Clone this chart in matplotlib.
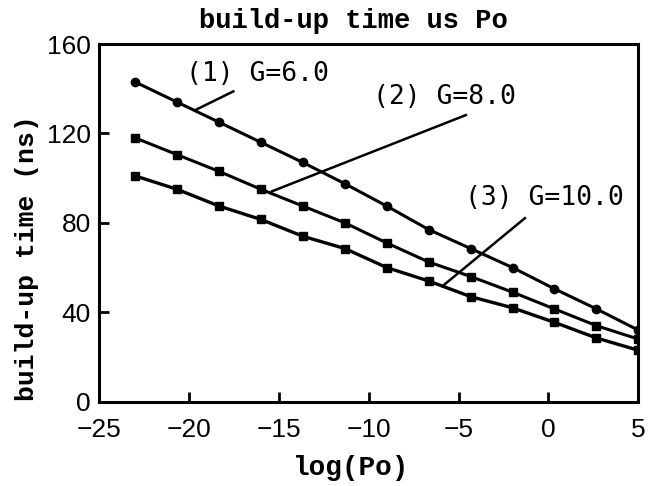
import matplotlib
matplotlib.use("Agg")
import matplotlib.pyplot as plt

# log(Po) values of the measured points
log_po = [-23, -20.67, -18.33, -16, -13.67, -11.33, -9, -6.67, -4.33, -2, 0.33, 2.67, 5]

# build-up time (ns) for each gain
g6 = [143, 134, 125, 116, 107, 97.5, 87.5, 77, 68.5, 60, 50.5, 41.5, 32]
g8 = [118, 110.5, 103, 95, 87.5, 80, 71, 62.5, 56, 49, 41.5, 34, 28]
g10 = [101, 95, 87.5, 81.5, 74, 68.5, 60, 54, 47, 42, 35.5, 28.5, 23]

labels = ["(1) G=6.0", "(2) G=8.0", "(3) G=10.0"]
xticks = [-25, -20, -15, -10, -5, 0, 5]
yticks = [0, 40, 80, 120, 160]

plt.rcParams['font.family'] = ['Liberation Sans', 'DejaVu Sans']
mono = 'Liberation Mono'

fig = plt.figure(figsize=(6.58, 4.86), dpi=100)
ax = fig.add_axes([99.3/658, 1-401.7/486, (638.3-99.3)/658, (401.7-44)/486])

ax.plot(log_po, g6, color='black', lw=2.2, marker='o', ms=6)
ax.plot(log_po, g8, color='black', lw=2.2, marker='s', ms=6)
ax.plot(log_po, g10, color='black', lw=2.4, marker='s', ms=6)

ax.set_xlim(-25, 5)
ax.set_ylim(0, 160)
ax.set_xticks(xticks)
ax.set_yticks(yticks)
ax.tick_params(direction='in', length=7, width=2, labelsize=19)
ax.tick_params(axis='x', pad=12)
ax.tick_params(axis='y', pad=6)
for s in ax.spines.values():
    s.set_linewidth(2.2)

# labels with leader lines
ax.text(-16.2, 146.7, labels[0], family='DejaVu Sans Mono', fontsize=19, ha='center', va='center')
ax.plot([-17.54, -19.67], [138.8, 130.4], color='black', lw=1.8)
ax.text(-5.8, 136.3, labels[1], family='DejaVu Sans Mono', fontsize=19, ha='center', va='center')
ax.plot([-4.6, -15.39], [128.2, 94.1], color='black', lw=1.8)
ax.text(-0.25, 91.1, labels[2], family='DejaVu Sans Mono', fontsize=19, ha='center', va='center')
ax.plot([-1.31, -5.9], [82.1, 51.7], color='black', lw=1.8)

fig.text(353/658, 1-21/486, "build-up time us Po", family=mono, fontsize=19.5,
         fontweight='bold', ha='center', va='center')
fig.text(351.5/658, 1-468/486, "log(Po)", family=mono, fontsize=20,
         fontweight='bold', ha='center', va='center')
fig.text(27/658, 1-258/486, "build-up time (ns)", family=mono, fontsize=19,
         fontweight='bold', ha='center', va='center', rotation=90)

fig.savefig("out.png", dpi=100)
